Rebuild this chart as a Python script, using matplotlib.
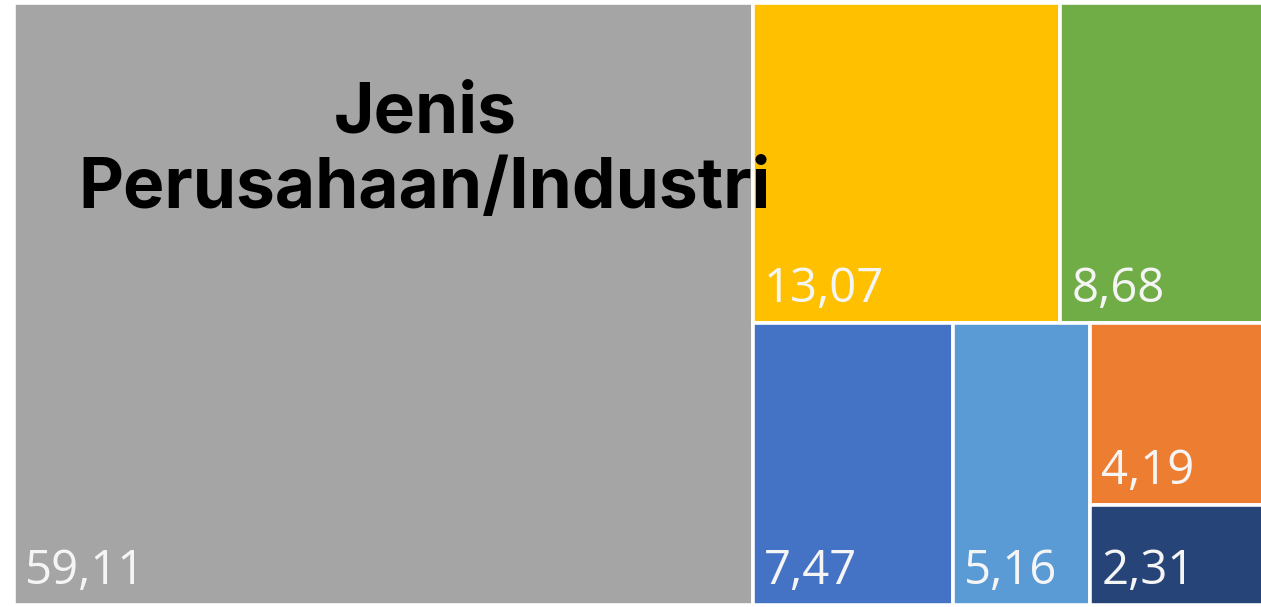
import matplotlib
matplotlib.use("Agg")
import matplotlib.pyplot as plt
from matplotlib.patches import Rectangle

# Data (persen)
labels = ["Lainnya", "A", "B", "C", "D", "E", "F"]
values = [59.11, 13.07, 8.68, 7.47, 5.16, 4.19, 2.31]
colors = ["#A5A5A5", "#FFC000", "#70AD47", "#4472C4", "#5B9BD5", "#ED7D31", "#264478"]
title_lines = ["Jenis", "Perusahaan/Industri"]


def split(rect, vals, along_x):
    # coupe un rectangle (x, y, w, h) proportionnellement aux valeurs
    x, y, w, h = rect
    total = sum(vals)
    out = []
    pos = 0.0
    for v in vals:
        f = v / total
        if along_x:
            out.append((x + pos * w, y, f * w, h))
        else:
            out.append((x, y + pos * h, w, f * h))
        pos += f
    return out


def layout(vals):
    g, rest = split((0, 0, 1, 1), [vals[0], sum(vals[1:])], True)
    top, bottom = split(rest, [sum(vals[1:3]), sum(vals[3:])], False)
    r_top = split(top, vals[1:3], True)
    b1, b2, b3 = split(bottom, [vals[3], vals[4], vals[5] + vals[6]], True)
    r_stack = split(b3, vals[5:7], False)
    return [g] + r_top + [b1, b2] + r_stack


fig = plt.figure(figsize=(12.61, 6.07), dpi=100)
fig.patch.set_facecolor("white")
ax = fig.add_axes([14 / 1261, 2 / 607, 1250 / 1261, 602 / 607])
ax.set_xlim(0, 1)
ax.set_ylim(1, 0)
ax.axis("off")

for (x, y, w, h), val, col in zip(layout(values), values, colors):
    ax.add_patch(Rectangle((x, y), w, h, facecolor=col, edgecolor="white", linewidth=2.6))
    ax.annotate(f"{val:.2f}".replace(".", ","), xy=(x, y + h), xytext=(8, 15),
                textcoords="offset points", ha="left", va="baseline",
                color="#F5F5F5", fontsize=34, family="Open Sans")

fig.text(425 / 1261, 1 - 132 / 607, title_lines[0], ha="center", va="baseline",
         fontsize=50, fontweight="bold", family="Inter", color="black")
fig.text(425 / 1261, 1 - 208 / 607, title_lines[1], ha="center", va="baseline",
         fontsize=50, fontweight="bold", family="Inter", color="black")

fig.savefig("out.png", dpi=100)
